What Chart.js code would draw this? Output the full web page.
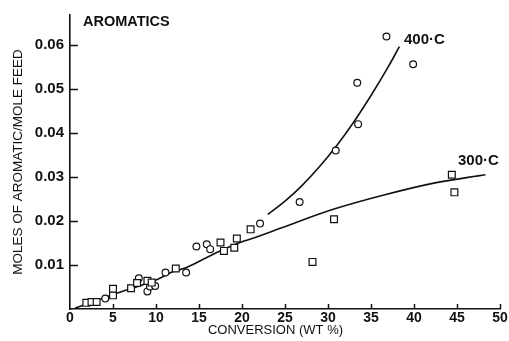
<!DOCTYPE html>
<html><head><meta charset="utf-8">
<script src="https://cdn.jsdelivr.net/npm/chart.js@4/dist/chart.umd.min.js"></script>
<style>html,body{margin:0;padding:0;background:#fff}#wrap{width:509px;height:341px}</style>
</head><body><div id="wrap"><canvas id="c" width="509" height="341"></canvas></div>
<script>
// ---- data ----
const xTickValues = [0, 5, 10, 15, 20, 25, 30, 35, 40, 45, 50];
const yTickValues = [0.01, 0.02, 0.03, 0.04, 0.05, 0.06];

// 300 C data (squares)
const sq300X = [1.9, 2.5, 3.1, 5.0, 5.0, 7.1, 7.8, 9.0, 9.5, 12.3, 17.5, 17.9, 19.1, 19.4, 21.0, 28.2, 30.7, 44.4, 44.7];
const sq300Y = [0.0014, 0.0016, 0.0016, 0.0031, 0.0046, 0.0047, 0.0059, 0.0064, 0.0060, 0.0092, 0.0151, 0.0132, 0.0139, 0.0160, 0.0181, 0.0107, 0.0204, 0.0305, 0.0265];

// 400 C data (circles)
const ci400X = [4.1, 8.0, 9.0, 9.3, 9.9, 11.1, 13.5, 14.7, 15.9, 16.3, 22.1, 26.7, 30.9, 33.5, 33.4, 36.8, 39.9];
const ci400Y = [0.0024, 0.0070, 0.0040, 0.0051, 0.0052, 0.0083, 0.0083, 0.0142, 0.0147, 0.0136, 0.0194, 0.0243, 0.0360, 0.0420, 0.0514, 0.0619, 0.0556];

// fitted curves
const fit300X = [0.6, 5, 10, 12, 13.4, 17, 20, 21, 24.8, 30.7, 36.5, 42.3, 48.3];
const fit300Y = [0.0002, 0.0033, 0.0066, 0.0085, 0.0093, 0.0128, 0.0153, 0.0159, 0.0186, 0.0227, 0.0259, 0.0286, 0.0305];
const fit400X = [23.0, 25, 27, 29, 31, 33, 35, 37, 38.3];
const fit400Y = [0.0215, 0.0245, 0.0281, 0.0323, 0.0371, 0.0425, 0.0485, 0.0550, 0.0596];

const panelLabel = 'AROMATICS';
const label400 = '400·C';
const label300 = '300·C';
const xTitle = 'CONVERSION (WT %)';
const yTitle = 'MOLES OF AROMATIC/MOLE FEED';

// ---- build ----
const pts = (xs, ys) => xs.map((x, i) => ({x, y: ys[i]}));
const FONT = '"Liberation Sans", Arial, Helvetica, sans-serif';
const INK = '#111';

const annot = {
  id: 'annot',
  afterDraw(chart) {
    const {ctx, chartArea, scales: {x, y}} = chart;
    ctx.save();
    ctx.strokeStyle = INK;
    ctx.lineWidth = 1.5;
    // inward ticks
    yTickValues.forEach(v => {
      const py = Math.round(y.getPixelForValue(v)) + 0.5;
      ctx.beginPath(); ctx.moveTo(chartArea.left, py); ctx.lineTo(chartArea.left + 8, py); ctx.stroke();
    });
    xTickValues.forEach(v => {
      if (v === 0) return;
      const px = Math.round(x.getPixelForValue(v)) + 0.5;
      ctx.beginPath(); ctx.moveTo(px, chartArea.bottom); ctx.lineTo(px, chartArea.bottom - 5); ctx.stroke();
    });
    // texts
    ctx.fillStyle = INK;
    ctx.textBaseline = 'middle';
    ctx.textAlign = 'left';
    ctx.font = 'bold 14.5px ' + FONT;
    ctx.fillText(panelLabel, 83, 22);
    ctx.font = 'bold 15px ' + FONT;
    ctx.fillText(label400, 404, 39.5);
    ctx.fillText(label300, 458, 161);
    ctx.font = '13px ' + FONT;
    ctx.textAlign = 'center';
    ctx.fillText(xTitle, 275.5, 330);
    ctx.restore();
  }
};

new Chart(document.getElementById('c'), {
  type: 'scatter',
  data: {
    datasets: [
      {label: '300 C', data: pts(sq300X, sq300Y), pointStyle: 'rect', pointRadius: 4.8,
       backgroundColor: '#fff', borderColor: INK, borderWidth: 1.2, order: 0},
      {label: '400 C', data: pts(ci400X, ci400Y), pointStyle: 'circle', pointRadius: 3.4,
       backgroundColor: '#fff', borderColor: INK, borderWidth: 1.2, order: 0},
      {label: 'fit 300', data: pts(fit300X, fit300Y), showLine: true, pointRadius: 0,
       borderColor: INK, borderWidth: 1.6, cubicInterpolationMode: 'monotone', order: 1},
      {label: 'fit 400', data: pts(fit400X, fit400Y), showLine: true, pointRadius: 0,
       borderColor: INK, borderWidth: 1.6, cubicInterpolationMode: 'monotone', order: 1}
    ]
  },
  options: {
    responsive: false,
    animation: false,
    devicePixelRatio: 1,
    layout: {padding: {left: 0, right: 9, top: 15, bottom: 0}},
    plugins: {legend: {display: false}, tooltip: {enabled: false}},
    scales: {
      x: {
        type: 'linear', min: 0, max: 50,
        afterBuildTicks: s => { s.ticks = xTickValues.map(v => ({value: v})); },
        afterFit: s => { s.height = 32; },
        grid: {display: false, drawTicks: false},
        border: {display: true, color: INK, width: 1.6},
        ticks: {color: INK, padding: 1, font: {family: FONT, size: 14, weight: 'bold'}, maxRotation: 0,
                callback: v => String(v)}
      },
      y: {
        type: 'linear', min: 0, max: 0.0668,
        afterBuildTicks: s => { s.ticks = yTickValues.map(v => ({value: v})); },
        afterFit: s => { s.width = 70; },
        grid: {display: false, drawTicks: false},
        border: {display: true, color: INK, width: 1.6},
        ticks: {color: INK, padding: 6, font: {family: FONT, size: 15, weight: 'bold'},
                callback: v => Number(v).toFixed(2)},
        title: {display: true, text: yTitle, color: INK, padding: {top: 10, bottom: 0},
                font: {family: FONT, size: 13.5}}
      }
    }
  },
  plugins: [annot]
});
</script>
</body></html>
